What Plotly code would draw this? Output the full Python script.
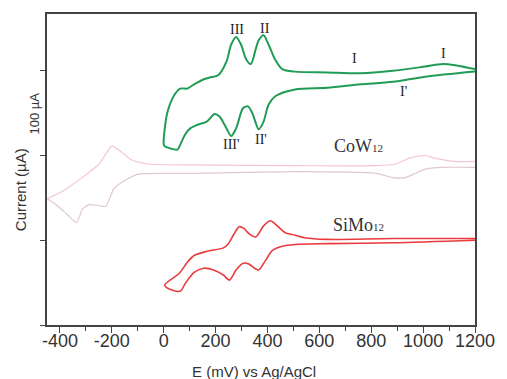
import plotly.graph_objects as go

# Cyclic voltammograms, potential E (mV vs Ag/AgCl) and current (arbitrary offset, µA)

# Hybrid film: closed loop, upper sweep right->left then lower sweep left->right
hyb_e = [1200, 1079, 1008, 883, 759, 630, 506, 457, 430, 404, 385, 366, 355, 336, 317, 298,
         279, 260, 242, 211, 177, 155, 117, 91, 64, 42, 15, 4, 0,
         4, 53, 64, 83, 102, 128, 166, 196, 215, 242, 260, 279, 306, 325, 343, 366, 385,
         404, 430, 506, 630, 759, 883, 1008, 1200]
hyb_i = [302, 308, 305, 300, 297, 298, 299, 302, 313, 331, 342, 336, 326, 308, 314, 331,
         340, 331, 311, 295, 292, 290, 284, 279, 279, 272, 252, 232, 213,
         211, 207, 213, 225, 232, 236, 240, 249, 246, 232, 223, 232, 256, 258, 249, 231, 240,
         260, 270, 278, 280, 284, 287, 293, 299]

# CoW12: anodic sweep (left->right) and cathodic sweep (right->left)
cow_an_e = [-449, -400, -374, -306, -249, -223, -200, -162, -125, -60, 128, 506, 819, 894,
            947, 1008, 1045, 1121, 1200]
cow_an_i = [149, 156, 161, 176, 190, 202, 211, 204, 195, 190, 189, 188, 188, 190,
            197, 200, 197, 193, 193]
cow_ca_e = [1200, 1072, 1008, 970, 932, 883, 819, 506, 128, 4, -98, -147, -192, -223,
            -249, -287, -313, -336, -374, -411, -449]
cow_ca_i = [186, 186, 184, 179, 174, 174, 179, 181, 179, 179, 178, 171, 161, 140,
            141, 142, 137, 121, 131, 141, 149]

# SiMo12: closed loop
simo_e = [1200, 883, 630, 543, 506, 468, 438, 411, 385, 355, 328, 309, 291, 272, 249, 230,
          166, 117, 91, 60, 4,
          26, 64, 83, 117, 155, 192, 230, 253, 279, 306, 328, 355, 366, 392, 419, 457, 506,
          630, 883, 1200]
simo_i = [102, 102, 101, 103, 106, 109, 117, 123, 117, 104, 108, 114, 116, 108, 96, 91,
          87, 82, 74, 61, 47,
          42, 40, 49, 62, 67, 65, 59, 53, 65, 73, 72, 66, 65, 76, 88, 93, 95,
          96, 97, 100]

x_ticks = [-400, -200, 0, 200, 400, 600, 800, 1000, 1200]
x_tick_text = ["-400", "-200", "0", "200", "400", "600", "800", "1000", "1200"]
y_ticks = [0, 100, 200, 300]

# Peak labels: (text, E, I)
peak_labels = [
    ("III", 283, 349), ("II", 389, 350), ("III'", 260, 213), ("II'", 374, 219),
    ("I", 736, 315), ("I", 1079, 320), ("I'", 925, 275),
]
species_labels = [
    ("CoW<span style='font-size:11px'>12</span>", 750, 211),
    ("SiMo<span style='font-size:11px'>12</span>", 750, 118),
]

fig = go.Figure()
fig.add_trace(go.Scatter(x=cow_an_e, y=cow_an_i, mode="lines",
                         line=dict(color="rgba(236,150,178,0.55)", width=1.2, shape="spline", smoothing=0.6)))
fig.add_trace(go.Scatter(x=cow_ca_e, y=cow_ca_i, mode="lines",
                         line=dict(color="rgba(200,150,185,0.55)", width=1.2, shape="spline", smoothing=0.6)))
fig.add_trace(go.Scatter(x=hyb_e, y=hyb_i, mode="lines",
                         line=dict(color="#1f9c55", width=2, shape="spline", smoothing=0.8)))
fig.add_trace(go.Scatter(x=simo_e, y=simo_i, mode="lines",
                         line=dict(color="#ea3a3c", width=1.6, shape="spline", smoothing=0.8)))

annotations = []
for txt, x, y in peak_labels:
    annotations.append(dict(x=x, y=y, xref="x", yref="y", text=txt, showarrow=False,
                            xanchor="center", yanchor="middle",
                            font=dict(family="Liberation Serif", size=14, color="#222")))
for txt, x, y in species_labels:
    annotations.append(dict(x=x, y=y, xref="x", yref="y", text=txt, showarrow=False,
                            xanchor="center", yanchor="middle",
                            font=dict(family="Liberation Serif", size=18, color="#333")))
annotations += [
    dict(x=0.483, y=-0.15, xref="paper", yref="paper", text="E (mV) vs Ag/AgCl",
         xanchor="center", yanchor="middle",
         showarrow=False, font=dict(family="Liberation Sans", size=15, color="#333")),
    dict(x=-0.062, y=0.435, xref="paper", yref="paper", text="Current (µA)", textangle=-90,
         xanchor="center", yanchor="middle",
         showarrow=False, font=dict(family="Liberation Sans", size=15, color="#333")),
    dict(x=-0.028, y=0.68, xref="paper", yref="paper", text="100 µA", textangle=-90,
         xanchor="center", yanchor="middle",
         showarrow=False, font=dict(family="Liberation Sans", size=13, color="#333")),
]

fig.update_layout(
    width=507, height=379,
    margin=dict(l=47, r=23, t=12, b=54),
    paper_bgcolor="white", plot_bgcolor="white",
    showlegend=False,
    annotations=annotations,
    xaxis=dict(range=[-450, 1200], tickvals=x_ticks, ticktext=x_tick_text,
               ticks="outside", ticklen=6,
               tickcolor="#444", showline=True, linecolor="#444", linewidth=1.5, mirror=True,
               showgrid=False, zeroline=False, ticklabelstandoff=-7,
               minor=dict(dtick=100, tick0=0, ticks="outside", ticklen=4, tickcolor="#444"),
               tickfont=dict(family="Liberation Sans", size=18, color="#333")),
    yaxis=dict(range=[0, 367], tickvals=y_ticks, ticks="outside", ticklen=5,
               tickcolor="#444", showticklabels=False, showline=True, linecolor="#444",
               linewidth=1.5, mirror=True, showgrid=False, zeroline=False),
)

fig.write_html("out.html")
